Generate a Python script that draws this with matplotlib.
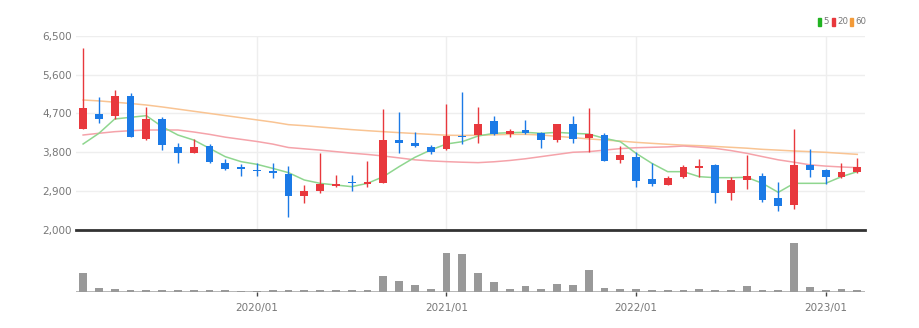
import matplotlib
matplotlib.use("Agg")
import matplotlib.pyplot as plt
import numpy as np

plt.rcParams['font.family'] = ['Liberation Sans Narrow', 'DejaVu Sans']

# ---- data (monthly, 2019/02 .. 2023/03) ----
months = ["2019/02","2019/03","2019/04","2019/05","2019/06","2019/07","2019/08","2019/09","2019/10","2019/11","2019/12",
          "2020/01","2020/02","2020/03","2020/04","2020/05","2020/06","2020/07","2020/08","2020/09","2020/10","2020/11","2020/12",
          "2021/01","2021/02","2021/03","2021/04","2021/05","2021/06","2021/07","2021/08","2021/09","2021/10","2021/11","2021/12",
          "2022/01","2022/02","2022/03","2022/04","2022/05","2022/06","2022/07","2022/08","2022/09","2022/10","2022/11","2022/12",
          "2023/01","2023/02","2023/03"]
opens  = [4339,4694,4640,5111,4108,4563,3930,3791,3945,3544,3459,3398,3367,3297,2795,2911,3011,3119,3058,3081,4077,4007,3930,3868,4185,4200,4532,4223,4316,4239,4092,4455,4138,4200,3621,3698,3181,3050,3220,3444,3498,2849,3158,3251,2733,2579,3505,3390,3220,3343]
highs  = [6207,5073,5242,5181,4841,4625,4007,4100,3984,3637,3521,3560,3560,3490,3042,3791,3274,3274,3606,4795,4733,4277,3969,4910,5188,4856,4648,4347,4548,4277,4463,4640,4833,4239,3945,3814,3560,3258,3498,3652,3521,3235,3737,3312,3104,4339,3868,3405,3560,3660]
lows   = [4339,4470,4571,4162,4084,3853,3544,3791,3544,3390,3258,3258,3197,2309,2618,2849,2988,2911,3004,3081,3776,3930,3760,3853,3992,4023,4200,4162,4223,3907,4030,4023,3814,3606,3544,3004,3027,3035,3197,3235,2618,2687,2950,2656,2448,2486,3235,3058,3204,3328]
closes = [4833,4571,5111,4162,4563,3969,3791,3930,3567,3413,3413,3367,3313,2795,2896,3065,3065,3081,3112,4084,4023,3945,3814,4177,4146,4455,4223,4285,4239,4084,4463,4108,4216,3606,3729,3135,3065,3197,3467,3482,2849,3158,3251,2687,2563,3505,3390,3235,3336,3451]
ma5    = [3992,4239,4571,4610,4648,4393,4200,4084,3891,3698,3583,3521,3428,3328,3158,3081,3042,3004,3081,3235,3467,3683,3853,3992,4046,4177,4239,4254,4262,4239,4262,4239,4223,4123,4046,3776,3544,3351,3351,3235,3212,3212,3220,3081,2872,3081,3081,3081,3235,3351]
ma20   = [4200,4240,4277,4300,4316,4316,4316,4270,4215,4150,4100,4050,3990,3910,3880,3850,3815,3780,3750,3714,3670,3625,3600,3583,3570,3560,3580,3610,3650,3700,3750,3800,3814,3850,3885,3905,3915,3925,3945,3920,3891,3840,3776,3700,3625,3570,3510,3480,3460,3444]
ma60   = [5011,4990,4960,4930,4895,4850,4800,4750,4700,4650,4600,4550,4500,4440,4416,4385,4355,4325,4300,4277,4255,4235,4215,4195,4190,4195,4205,4215,4215,4200,4170,4140,4110,4084,4060,4030,4007,3985,3965,3953,3935,3915,3895,3868,3850,3830,3815,3799,3775,3752]
volumes = [57,10,7,6,4,4,4,4,4,5,1,1,4,4,4,6,4,4,6,48,33,21,7,115,113,57,30,7,16,7,22,19,64,12,7,7,6,4,6,7,6,4,16,4,6,145,14,6,7,4]
yticks = [2000,2900,3800,4700,5600,6500]
year_ticks = ["2020/01","2021/01","2022/01","2023/01"]
legend_labels = ["5","20","60"]

# ---- styles ----
UP = '#e8383d'
DOWN = '#1b7ae6'
C5, C20, C60 = '#8fd68f', '#f5a3aa', '#f9c493'
GRID = '#eeeeee'

W, H = 920, 328
fig = plt.figure(figsize=(W/100, H/100), dpi=100)
L, R = 76/W, 865/W
ax = fig.add_axes([L, 1-230/H, R-L, (230-35.7)/H])
axv = fig.add_axes([L, 1-291.7/H, R-L, (291.7-236)/H], sharex=ax)

x = np.arange(len(months))
opens_a, closes_a = np.array(opens), np.array(closes)
up = closes_a >= opens_a
cols = np.where(up, UP, DOWN)
bw = 0.5

ax.vlines(x, lows, highs, colors=cols, lw=1.0, zorder=3)
bottoms = np.minimum(opens_a, closes_a)
heights = np.maximum(np.abs(closes_a - opens_a), 15)
ax.bar(x, heights, bottom=bottoms, width=bw, color=cols, zorder=4, linewidth=0)

ax.plot(x, ma60, color=C60, lw=1.1, zorder=2)
ax.plot(x, ma20, color=C20, lw=1.1, zorder=2)
ax.plot(x, ma5, color=C5, lw=1.1, zorder=2)

ax.set_ylim(2000, 6500)
ax.set_xlim(-0.45, 49.49)
ax.set_yticks(yticks)
ax.set_yticklabels([f"{v:,}" for v in yticks], color='#777777', fontsize=7.5)
ax.tick_params(axis='y', length=0, pad=3)
ax.tick_params(axis='x', length=0, labelbottom=False)
for y in yticks:
    ax.axhline(y, color=GRID, lw=1, zorder=0)
year_idx = [months.index(m) for m in year_ticks]
for xi in year_idx:
    ax.axvline(xi, color=GRID, lw=1, zorder=0)
for s in ax.spines.values():
    s.set_visible(False)
ax.axhline(2000, color='#333333', lw=2, zorder=5, clip_on=False)

# volume
axv.bar(x, volumes, width=bw, color='#999999', linewidth=0, zorder=3)
axv.set_ylim(0, 167)
axv.set_yticks([])
for s in axv.spines.values():
    s.set_visible(False)
axv.axhline(0, color='#aaaaaa', lw=1.2, zorder=2)
axv.set_xticks(year_idx)
axv.set_xticklabels(year_ticks, color='#777777', fontsize=7.5)
axv.tick_params(axis='x', length=3, width=1, color='#444444', pad=5)

# legend
items = [(818, 823.5, '#22b322'), (832, 837.5, UP), (850, 855.5, '#f39a38')]
for lab, (sx, tx, c) in zip(legend_labels, items):
    fig.patches.append(plt.Rectangle((sx/W, 1-26/H), 3/W, 8/H, color=c, transform=fig.transFigure))
    fig.text(tx/W, 1-22/H, lab, color='#777777', fontsize=6.2, va='center', ha='left')

fig.savefig('out.png', dpi=100)
